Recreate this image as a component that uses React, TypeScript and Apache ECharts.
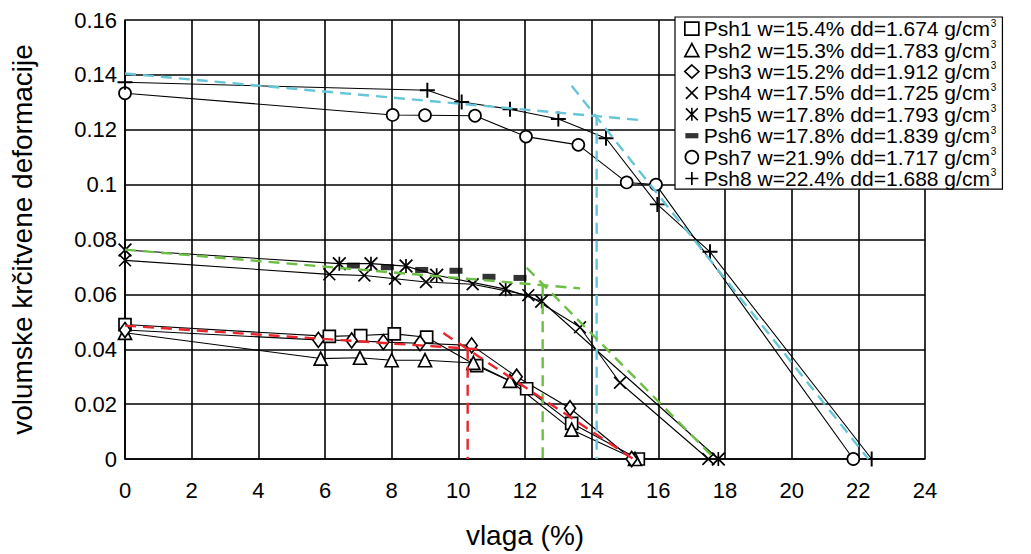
import React, { useEffect, useRef } from "react";
import * as echarts from "echarts";

// Measured samples: [moisture %, volumetric shrinkage strain]
const psh1 = [[0, 0.049], [6.13, 0.0447], [7.07, 0.045], [8.08, 0.0456], [9.05, 0.0444], [10.55, 0.034], [12.05, 0.0256], [13.4, 0.013], [15.4, 0]];
const psh2 = [[0, 0.046], [5.87, 0.0366], [7.05, 0.0369], [8.0, 0.036], [9.0, 0.036], [10.45, 0.035], [11.55, 0.0285], [13.4, 0.0107], [15.3, 0]];
const psh3 = [[0, 0.047], [5.8, 0.0434], [6.8, 0.0432], [7.75, 0.0426], [8.85, 0.0422], [10.4, 0.0414], [11.75, 0.03], [13.35, 0.0185], [15.2, 0]];
const psh4 = [[0, 0.0724], [6.13, 0.0673], [7.18, 0.0669], [8.1, 0.0657], [9.03, 0.0645], [10.43, 0.0637], [12.1, 0.0597], [13.65, 0.048], [14.85, 0.0278], [17.5, 0]];
const psh5 = [[0, 0.0762], [6.43, 0.0712], [7.38, 0.0712], [8.43, 0.0703], [9.35, 0.067], [11.42, 0.0619], [12.5, 0.0575], [17.8, 0]];
const psh6 = [[6.85, 0.0705], [7.87, 0.0699], [8.9, 0.0689], [9.93, 0.0686], [10.92, 0.0664], [11.85, 0.066]];
const psh7 = [[0, 0.1333], [8.03, 0.1254], [9.0, 0.1253], [10.5, 0.1251], [12.03, 0.1175], [13.6, 0.1145], [15.05, 0.1008], [15.93, 0.1], [21.85, 0]];
const psh8 = [[0, 0.1373], [9.07, 0.1344], [10.1, 0.1301], [11.55, 0.1275], [13.0, 0.1239], [14.43, 0.1169], [15.97, 0.0928], [17.55, 0.0755], [22.4, 0]];

// Sample descriptors for the legend
const names = ["Psh1", "Psh2", "Psh3", "Psh4", "Psh5", "Psh6", "Psh7", "Psh8"];
const wValues = ["15.4", "15.3", "15.2", "17.5", "17.8", "17.8", "21.9", "22.4"];
const ddValues = ["1.674", "1.783", "1.912", "1.725", "1.793", "1.839", "1.717", "1.688"];

// Bilinear construction lines (dashed)
const cyanFlat = [[0, 0.1405], [15.4, 0.1236]];
const cyanSteep = [[13.4, 0.136], [22.3, 0]];
const cyanDrop = [[14.15, 0.1255], [14.15, 0]];
const greenFlat = [[0, 0.0763], [13.65, 0.0622]];
const greenSteep = [[12.05, 0.0697], [17.7, 0]];
const greenDrop = [[12.53, 0.0633], [12.53, 0]];
const redFlat = [[0, 0.0486], [10.7, 0.0399]];
const redSteep = [[9.55, 0.0459], [15.25, 0]];
const redDrop = [[10.28, 0.0402], [10.28, 0]];

// Axis ranges
const xMin = 0, xMax = 24, xStep = 2;
const yMin = 0, yMax = 0.16, yStep = 0.02;

const FONT = "'Liberation Sans', Arial, sans-serif";

const crossPath = "path://M0,0.9L0.9,0L10,9.1L9.1,10Z M9.1,0L10,0.9L0.9,10L0,9.1Z";
const starPath = "path://M0,0.9L0.9,0L10,9.1L9.1,10Z M9.1,0L10,0.9L0.9,10L0,9.1Z M4.4,0H5.6V10H4.4Z";
const plusPath = "path://M4.35,0H5.65V4.35H10V5.65H5.65V10H4.35V5.65H0V4.35H4.35Z";
const barPath = "path://M0,0M0,3H10V7H0ZM10,10";

const hollow = { color: "#fff", borderColor: "#000", borderWidth: 1.7 };
const solid = { color: "#000", borderWidth: 0 };

const markers: any[] = [
  { symbol: "rect", size: 12, style: hollow },
  { symbol: "triangle", size: 13, style: hollow },
  { symbol: "diamond", size: [11, 15], style: hollow },
  { symbol: crossPath, size: 13, style: solid },
  { symbol: starPath, size: 14, style: solid },
  { symbol: "rect", size: [13, 6], style: solid, legendIcon: barPath },
  { symbol: "circle", size: 12, style: hollow },
  { symbol: plusPath, size: 15, style: solid },
];

const sampleData = [psh1, psh2, psh3, psh4, psh5, psh6, psh7, psh8];

export default function App() {
  const ref = useRef<HTMLDivElement>(null);

  useEffect(() => {
    if (!ref.current) return;
    const chart = echarts.init(ref.current, undefined, { renderer: "svg" });

    const labelOf: Record<string, string> = {};
    names.forEach((n, i) => {
      labelOf[n] = `${n} w=${wValues[i]}% dd=${ddValues[i]} g/cm`;
    });

    const dataSeries = names.map((n, i) => {
      const m = markers[i];
      const isScatter = n === "Psh6";
      return {
        name: n,
        type: isScatter ? "scatter" : "line",
        data: sampleData[i],
        symbol: m.symbol,
        symbolSize: m.size,
        showSymbol: true,
        itemStyle: m.style,
        lineStyle: { color: "#000", width: 1.1 },
        z: 3,
        silent: true,
      } as any;
    });

    const dashed = (name: string, data: number[][], color: string) => ({
      name,
      type: "line",
      data,
      showSymbol: false,
      symbol: "none",
      silent: true,
      z: 4,
      lineStyle: { color, width: 2.4, type: [11, 7] },
    });

    const fitSeries = [
      dashed("fitCyan1", cyanFlat, "#66C6D8"),
      dashed("fitCyan2", cyanSteep, "#66C6D8"),
      dashed("fitCyan3", cyanDrop, "#66C6D8"),
      dashed("fitGreen1", greenFlat, "#6DBE45"),
      dashed("fitGreen2", greenSteep, "#6DBE45"),
      dashed("fitGreen3", greenDrop, "#6DBE45"),
      dashed("fitRed1", redFlat, "#E8262C"),
      dashed("fitRed2", redSteep, "#E8262C"),
      dashed("fitRed3", redDrop, "#E8262C"),
    ];

    chart.setOption({
      animation: false,
      backgroundColor: "#fff",
      textStyle: { fontFamily: FONT, color: "#000" },
      grid: { left: 125, right: 106, top: 20, bottom: 91, containLabel: false },
      xAxis: {
        type: "value",
        min: xMin,
        max: xMax,
        interval: xStep,
        name: "vlaga (%)",
        nameLocation: "middle",
        nameGap: 62,
        nameTextStyle: { fontSize: 28, color: "#000", fontFamily: FONT, verticalAlign: "top" },
        axisLine: { show: true, lineStyle: { color: "#000", width: 1.6 } },
        axisTick: { show: false },
        axisLabel: { fontSize: 22, color: "#000", fontFamily: FONT, margin: 20 },
        splitLine: { show: true, lineStyle: { color: "#000", width: 1.6 } },
      },
      yAxis: {
        type: "value",
        min: yMin,
        max: yMax,
        interval: yStep,
        name: "volumske krčitvene deformacije",
        nameLocation: "middle",
        nameGap: 89,
        nameTextStyle: { fontSize: 28, color: "#000", fontFamily: FONT },
        axisLine: { show: true, lineStyle: { color: "#000", width: 1.6 } },
        axisTick: { show: false },
        axisLabel: {
          fontSize: 22,
          color: "#000",
          fontFamily: FONT,
          margin: 8,
          formatter: (v: number) => String(parseFloat(v.toFixed(2))),
        },
        splitLine: { show: true, lineStyle: { color: "#000", width: 1.6 } },
      },
      legend: {
        show: true,
        orient: "vertical",
        left: 675,
        top: 17,
        itemGap: 0,
        itemWidth: 14,
        itemHeight: 13,
        padding: [1, 6, 0, 9],
        backgroundColor: "#fff",
        borderColor: "#000",
        borderWidth: 1.2,
        borderRadius: 0,
        selectedMode: false,
        data: names.map((n, i) => ({
          name: n,
          icon: markers[i].legendIcon || markers[i].symbol,
          itemStyle: markers[i].style,
        })),
        formatter: (n: string) => `{t|${labelOf[n]}}{s|3}`,
        textStyle: {
          fontFamily: FONT,
          color: "#000",
          fontSize: 21,
          lineHeight: 21.4,
          rich: {
            t: { fontSize: 21, lineHeight: 21.4, fontFamily: FONT, color: "#000" },
            s: { fontSize: 10, lineHeight: 21.4, fontFamily: FONT, color: "#000", verticalAlign: "top", padding: [0, 0, 8, 1] },
          },
        },
      },
      series: [...dataSeries, ...fitSeries],
    });

    return () => chart.dispose();
  }, []);

  return (
    <div
      ref={ref}
      style={{ position: "absolute", left: 0, top: 0, width: 1031, height: 554, background: "#fff" }}
    />
  );
}
